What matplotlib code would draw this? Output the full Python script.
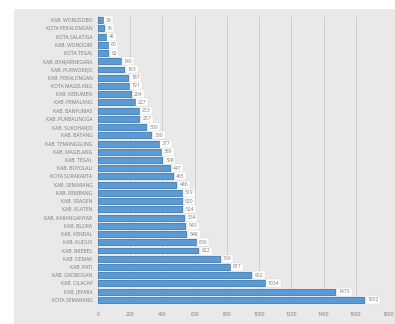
import matplotlib.pyplot as plt
from matplotlib.patches import Rectangle

# data, top row first
regions = [
    "KAB. WONOSOBO", "KOTA PEKALONGAN", "KOTA SALATIGA", "KAB. WONOGIRI", "KOTA TEGAL",
    "KAB. BANJARNEGARA", "KAB. PURWOREJO", "KAB. PEKALONGAN", "KOTA MAGELANG", "KAB. KEBUMEN",
    "KAB. PEMALANG", "KAB. BANYUMAS", "KAB. PURBALINGGA", "KAB. SUKOHARJO", "KAB. BATANG",
    "KAB. TEMANGGUNG", "KAB. MAGELANG", "KAB. TEGAL", "KAB. BOYOLALI", "KOTA SURAKARTA",
    "KAB. SEMARANG", "KAB. REMBANG", "KAB. SRAGEN", "KAB. KLATEN", "KAB. KARANGANYAR",
    "KAB. BLORA", "KAB. KENDAL", "KAB. KUDUS", "KAB. BREBES", "KAB. DEMAK",
    "KAB. PATI", "KAB. GROBOGAN", "KAB. CILACAP", "KAB. JEPARA", "KOTA SEMARANG",
]
values = [
    28, 36, 48, 60, 62,
    140, 163, 187, 191, 204,
    227, 253, 257, 300, 330,
    377, 389, 398, 447, 465,
    486, 519, 520, 524, 534,
    543, 548, 606, 622, 756,
    817, 952, 1034, 1473, 1652,
]
xticks = [0, 200, 400, 600, 800, 1000, 1200, 1400, 1600, 1800]

plt.rcParams["font.family"] = ["Open Sans", "DejaVu Sans"]
txt = "#7a7a7a"

fig = plt.figure(figsize=(3.95, 3.24), dpi=100)
fig.patch.set_facecolor("white")
# grey panel behind the chart
fig.patches.append(Rectangle((14 / 395, 0), 381 / 395, 1 - 9 / 324,
                             transform=fig.transFigure, facecolor="#e9e9e9",
                             edgecolor="none", zorder=-10))

ax = fig.add_axes([98 / 395, 20 / 324, 290 / 395, 288 / 324])
ax.set_facecolor("none")

ypos = list(range(len(regions)))
ax.barh(ypos, values, height=0.72, color="#5b9bd5", edgecolor="#2f6ea8",
        linewidth=0.5, zorder=3)

for y, v in zip(ypos, values):
    ax.text(v + 20, y, str(v), va="center", ha="left", fontsize=3.6,
            color=txt, zorder=4,
            bbox=dict(boxstyle="square,pad=0.3", facecolor="white",
                      edgecolor="#d9d9d9", linewidth=0.3))

ax.set_yticks(ypos)
ax.set_yticklabels(regions, fontsize=3.6, color=txt)
ax.set_ylim(len(regions) - 0.5, -0.5)
ax.set_xlim(0, 1800)
ax.set_xticks(xticks)
ax.set_xticklabels([str(t) for t in xticks], fontsize=3.6, color=txt)
ax.tick_params(axis="x", length=0, pad=6)
ax.tick_params(axis="y", length=0, pad=4)

ax.grid(axis="x", color="#cfcfcf", linewidth=0.7, zorder=0)
ax.set_axisbelow(True)
for s in ["top", "right", "bottom"]:
    ax.spines[s].set_visible(False)
ax.spines["left"].set_color("#bfbfbf")
ax.spines["left"].set_linewidth(0.6)

fig.savefig("out.png", dpi=100)
